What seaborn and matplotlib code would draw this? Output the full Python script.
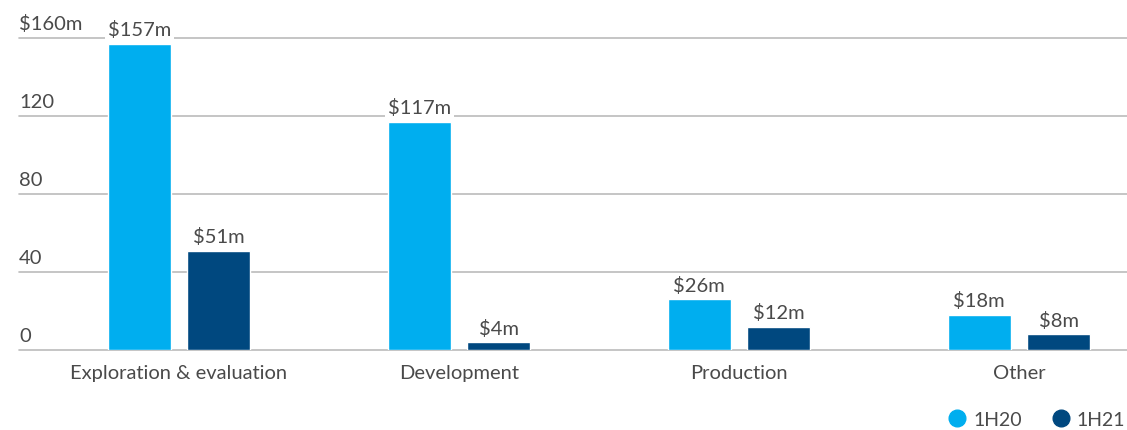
import matplotlib
matplotlib.use("Agg")
import matplotlib.pyplot as plt
import matplotlib.transforms as mtrans
from matplotlib.lines import Line2D
import seaborn as sns
import pandas as pd

categories = ["Exploration & evaluation", "Development", "Production", "Other"]
series_names = ["1H20", "1H21"]
values_1h20 = [157, 117, 26, 18]
values_1h21 = [51, 4, 12, 8]
y_ticks = [0, 40, 80, 120, 160]
y_tick_labels = ["0", "40", "80", "120", "$160m"]

colors = ["#00AEEF", "#00487F"]
text_color = "#4A4A4A"
grid_color = "#BBBBBB"

sns.set_theme(style="white")
plt.rcParams["font.family"] = ["Lato", "DejaVu Sans"]

df = pd.DataFrame({
    "category": categories * 2,
    "period": [series_names[0]] * len(categories) + [series_names[1]] * len(categories),
    "value": values_1h20 + values_1h21,
})

fig = plt.figure(figsize=(11.27, 4.31), dpi=100)
ax = fig.add_axes([19 / 1127, 1 - 351 / 431, 1 - 19 / 1127, (351 - 39) / 431])

sns.barplot(data=df, x="category", y="value", hue="period", order=categories,
            hue_order=series_names, palette=colors, width=0.566, gap=0.2,
            ax=ax, legend=False, saturation=1, errorbar=None, zorder=3)

ax.set_xlim(-0.571, 3.386)
ax.set_ylim(0, 160)

for s in ax.spines.values():
    s.set_visible(False)
ax.set_yticks([])
ax.set_xlabel("")
ax.set_ylabel("")
ax.tick_params(axis="x", length=0, pad=10, labelsize=14.5, labelcolor=text_color)

for t in y_ticks:
    ax.axhline(t, color=grid_color, lw=1.2, zorder=1, xmin=0, xmax=1, clip_on=False)

trans = mtrans.blended_transform_factory(ax.transAxes, ax.transData)
for t, lab in zip(y_ticks, y_tick_labels):
    ax.annotate(lab, xy=(0, t), xycoords=trans, xytext=(0, 4), textcoords="offset points",
                ha="left", va="bottom", fontsize=14.5, color=text_color)

for container in ax.containers:
    for bar in container:
        h = bar.get_height()
        x = bar.get_x() + bar.get_width() / 2
        ax.annotate(f"${h:.0f}m", xy=(x, h), xytext=(0, 4), textcoords="offset points",
                    ha="center", va="bottom", fontsize=14.5, color=text_color, zorder=5,
                    bbox=dict(boxstyle="square,pad=0.15", fc="white", ec="none"))

handles = [Line2D([0], [0], marker="o", color="none", markerfacecolor=c,
                  markeredgecolor=c, markersize=12) for c in colors]
fig.legend(handles, series_names, loc="lower right", bbox_to_anchor=(1.0, 0.0),
           ncol=2, frameon=False, fontsize=14, handletextpad=0.32, columnspacing=1.5,
           labelcolor=text_color, handlelength=1.0, borderpad=0.1, borderaxespad=0.0)

fig.savefig("out.png", dpi=100)
